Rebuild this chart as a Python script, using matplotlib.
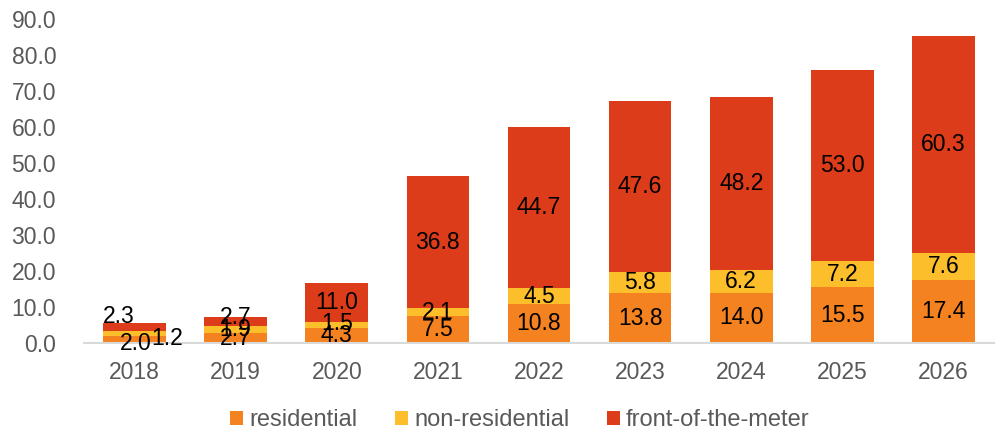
import matplotlib
matplotlib.use("Agg")
import matplotlib.pyplot as plt
import numpy as np

plt.rcParams['font.family'] = ['Liberation Sans', 'DejaVu Sans']

years = ["2018", "2019", "2020", "2021", "2022", "2023", "2024", "2025", "2026"]
residential = [2.0, 2.7, 4.3, 7.5, 10.8, 13.8, 14.0, 15.5, 17.4]
non_residential = [1.2, 1.9, 1.5, 2.1, 4.5, 5.8, 6.2, 7.2, 7.6]
front_of_meter = [2.3, 2.7, 11.0, 36.8, 44.7, 47.6, 48.2, 53.0, 60.3]
series_names = ["residential", "non-residential", "front-of-the-meter"]
colors = ["#F58220", "#FDBE2B", "#DD3C1B"]

fig = plt.figure(figsize=(9.96, 4.32), dpi=100)
ax = fig.add_axes([0.0843, 0.206, 0.9137, 0.75])

x = np.arange(len(years))
width = 0.62
bottom = np.zeros(len(years))
all_series = [residential, non_residential, front_of_meter]
bars = []
for vals, name, c in zip(all_series, series_names, colors):
    v = np.array(vals)
    ax.bar(x, v, width, bottom=bottom, color=c, label=name, edgecolor='none')
    bars.append((v, bottom.copy()))
    bottom += v

# per-label pixel offsets (Excel auto placement for the tiny 2018 bar)
offsets = {(0, 0): (1, -4), (0, 1): (33, -5), (0, 2): (-16, 11),
           (1, 2): (0, 4), (2, 1): (0, 1)}
for si, (v, bot) in enumerate(bars):
    for i in range(len(years)):
        dx, dy = offsets.get((i, si), (0, 0))
        ax.annotate(f"{v[i]:.1f}", xy=(x[i], bot[i] + v[i] / 2), xytext=(dx, dy),
                    textcoords='offset pixels', ha='center', va='center',
                    fontsize=16.5, color='black')

ax.set_xlim(-0.5, len(years) - 0.5)
ax.set_ylim(0, 90)
ax.set_yticks(np.arange(0, 91, 10))
ax.set_yticklabels([f"{t:.1f}" for t in np.arange(0, 91, 10)])
ax.set_xticks(x)
ax.set_xticklabels(years)
for s in ['top', 'right', 'left']:
    ax.spines[s].set_visible(False)
ax.spines['bottom'].set_color('#D9D9D9')
ax.spines['bottom'].set_linewidth(1.5)
ax.tick_params(axis='both', length=0, labelsize=16.5, colors='#595959')
ax.tick_params(axis='x', pad=13)
ax.tick_params(axis='y', pad=20)

ax.legend(loc='lower center', bbox_to_anchor=(0.479, -0.338), ncol=3, frameon=False,
          fontsize=17, labelcolor='#595959', handlelength=0.55, handleheight=0.55,
          handletextpad=0.25, columnspacing=1.6)

fig.savefig("out.png", dpi=100)
